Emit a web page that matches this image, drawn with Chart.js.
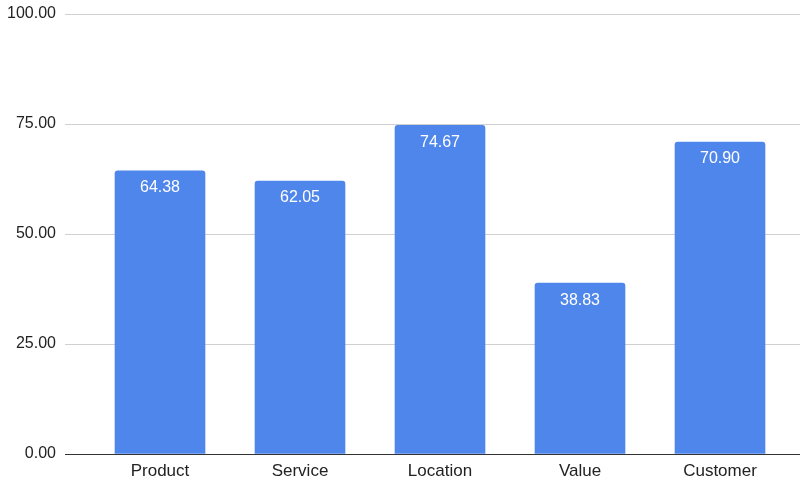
<!DOCTYPE html>
<html>
<head>
<meta charset="utf-8">
<script src="https://cdn.jsdelivr.net/npm/chart.js@4"></script>
<style>
  html, body { margin: 0; padding: 0; background: #fff; }
  #wrap { width: 800px; height: 488px; }
</style>
</head>
<body>
<div id="wrap"><canvas id="chart"></canvas></div>
<script>
// Data
const categories = ["Product", "Service", "Location", "Value", "Customer"];
const scores = [64.38, 62.05, 74.67, 38.83, 70.90];
const yTicks = [0, 25, 50, 75, 100];

const fontFamily = "'Liberation Sans', Arial, sans-serif";
const gridColor = (ctx) => (ctx.tick && ctx.tick.value === 0 ? "#333333" : "#d0d0d0");

// Writes the value inside the top of each bar
const valueLabels = {
    id: "valueLabels",
    afterDatasetsDraw(chart) {
        const ctx = chart.ctx;
        const meta = chart.getDatasetMeta(0);
        ctx.save();
        ctx.fillStyle = "#ffffff";
        ctx.font = "16px " + fontFamily;
        ctx.textAlign = "center";
        ctx.textBaseline = "middle";
        meta.data.forEach((bar, i) => {
            ctx.fillText(scores[i].toFixed(2), bar.x, bar.y + 17);
        });
        ctx.restore();
    }
};

const ctx = document.getElementById("chart").getContext("2d");

new Chart(ctx, {
    type: "bar",
    data: {
        labels: categories,
        datasets: [
            {
                label: "Score",
                data: scores,
                backgroundColor: "#4f86ec",
                barThickness: 90,
                borderRadius: { topLeft: 3, topRight: 3 },
                borderSkipped: "bottom",
            }
        ]
    },
    options: {
        responsive: true,
        maintainAspectRatio: false,
        animation: false,
        layout: { padding: { top: 14, bottom: 0, left: 0, right: 0 } },
        plugins: {
            legend: { display: false },
            tooltip: { enabled: false }
        },
        scales: {
            x: {
                grid: { display: false, drawTicks: false },
                border: { display: false },
                ticks: {
                    color: "#222",
                    padding: 7,
                    font: { size: 17, family: fontFamily }
                },
                afterFit: (axis) => { axis.height = 34; }
            },
            y: {
                min: 0,
                max: 100,
                afterBuildTicks: (axis) => { axis.ticks = yTicks.map((v) => ({ value: v })); },
                grid: {
                    color: gridColor,
                    tickColor: gridColor,
                    tickLength: 25,
                    lineWidth: 1
                },
                border: { display: false },
                ticks: {
                    color: "#222",
                    padding: 9,
                    font: { size: 16, family: fontFamily },
                    callback: (v) => Number(v).toFixed(2)
                },
                afterFit: (axis) => {
                    axis.width = 90;
                    axis.paddingTop = 0;
                    axis.paddingBottom = 0;
                }
            },
            y2: {
                position: "right",
                min: 0,
                max: 100,
                afterBuildTicks: (axis) => { axis.ticks = yTicks.map((v) => ({ value: v })); },
                grid: {
                    drawOnChartArea: false,
                    tickColor: gridColor,
                    tickLength: 10
                },
                border: { display: false },
                ticks: { display: false },
                afterFit: (axis) => {
                    axis.width = 10;
                    axis.paddingTop = 0;
                    axis.paddingBottom = 0;
                }
            }
        }
    },
    plugins: [valueLabels]
});
</script>
</body>
</html>
